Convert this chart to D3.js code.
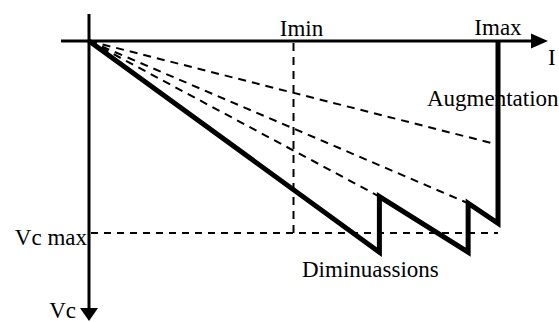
<!DOCTYPE html>
<html>
<head>
<meta charset="utf-8">
<script src="https://cdn.jsdelivr.net/npm/d3@7"></script>
<style>
  body { margin: 0; background: #fff; }
  svg text { font-family: "Times New Roman", "Liberation Serif", serif; font-size: 23px; fill: #000; }
</style>
</head>
<body>
<svg id="chart" width="559" height="322"></svg>
<script>
// current (I) as fraction of Imax, voltage (Vc) as fraction of Vc max
const sawI = [0, 0.71, 0.71, 0.927, 0.927, 1, 1];
const sawV = [0, 1.1, 0.81, 1.1, 0.845, 0.95, 0];

// dashed rays from the origin
const rayI = [1, 0.927, 0.71];
const rayV = [0.54, 0.845, 0.81];

const Imin = 0.5, Imax = 1, VcMax = 1;

let svg = d3.select("#chart");

// scales
let x = d3.scaleLinear().domain([0, 1]).range([89, 498]);
let y = d3.scaleLinear().domain([0, 1]).range([41, 233]);

// axes (lines + arrow heads)
svg.append("line")
  .attr("x1", 61).attr("y1", y(0)).attr("x2", 535).attr("y2", y(0))
  .attr("stroke", "black").attr("stroke-width", 3);
svg.append("path")
  .attr("d", `M531,${y(0) - 7.5}L548,${y(0)}L531,${y(0) + 7.5}Z`)
  .attr("fill", "black");

svg.append("line")
  .attr("x1", x(0)).attr("y1", 14).attr("x2", x(0)).attr("y2", 310)
  .attr("stroke", "black").attr("stroke-width", 3);
svg.append("path")
  .attr("d", `M${x(0) - 9},308L${x(0)},321L${x(0) + 9},308Z`)
  .attr("fill", "black");

// dashed guides
const dash = "8,6";
svg.append("line")
  .attr("x1", x(Imin)).attr("y1", y(0) + 2).attr("x2", x(Imin)).attr("y2", y(VcMax))
  .attr("stroke", "black").attr("stroke-width", 2).attr("stroke-dasharray", dash);
svg.append("line")
  .attr("x1", x(0) + 2).attr("y1", y(VcMax)).attr("x2", x(Imax)).attr("y2", y(VcMax))
  .attr("stroke", "black").attr("stroke-width", 2).attr("stroke-dasharray", "7,6");

svg.selectAll(".ray")
  .data(rayI)
  .enter()
  .append("line")
  .attr("class", "ray")
  .attr("x1", x(0)).attr("y1", y(0))
  .attr("x2", (d) => x(d))
  .attr("y2", (d, i) => y(rayV[i]))
  .attr("stroke", "black").attr("stroke-width", 2).attr("stroke-dasharray", dash);

// thick sawtooth
let line = d3.line()
  .x((d) => x(d[0]))
  .y((d) => y(d[1]));
svg.append("path")
  .attr("d", line(sawI.map((d, i) => [d, sawV[i]])))
  .attr("fill", "none")
  .attr("stroke", "black")
  .attr("stroke-width", 5)
  .attr("stroke-linejoin", "miter");

// labels
svg.append("text").attr("x", x(Imin) + 8).attr("y", 36).attr("text-anchor", "middle").text("Imin");
svg.append("text").attr("x", x(Imax)).attr("y", 35).attr("text-anchor", "middle").text("Imax");
svg.append("text").attr("x", 548).attr("y", 65).text("I");
svg.append("text").attr("x", 427).attr("y", 106).text("Augmentation");
svg.append("text").attr("x", 302).attr("y", 277).text("Diminuassions");
svg.append("text").attr("x", 87).attr("y", 245).attr("text-anchor", "end").text("Vc max");
svg.append("text").attr("x", 76).attr("y", 318).attr("text-anchor", "end").text("Vc");
</script>
</body>
</html>
